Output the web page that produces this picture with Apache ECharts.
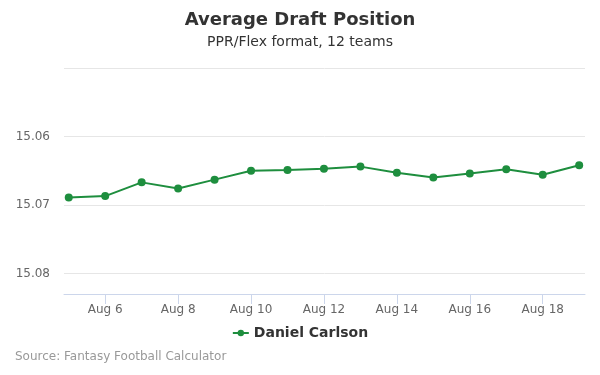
<!DOCTYPE html>
<html>
<head>
<meta charset="utf-8">
<script src="https://cdn.jsdelivr.net/npm/echarts@6/dist/echarts.min.js"></script>
<style>
  html, body { margin: 0; padding: 0; background: #fff; }
  #chart { width: 600px; height: 375px; }
</style>
</head>
<body>
<div id="chart"></div>
<script>
// days of August
var days = [5, 6, 7, 8, 9, 10, 11, 12, 13, 14, 15, 16, 17, 18, 19];
var adp = [15.0689, 15.0687, 15.0667, 15.0676, 15.0663, 15.0650, 15.0649, 15.0647,
           15.0644, 15.0653, 15.0660, 15.0654, 15.0648, 15.0656, 15.0642];
var dayTicks = [6, 8, 10, 12, 14, 16, 18];
var yTicks = ['15.06', '15.07', '15.08'];
var playerName = 'Daniel Carlson';

var points = [];
for (var i = 0; i < days.length; i++) {
    points.push([days[i], adp[i]]);
}

var chart = echarts.init(document.getElementById('chart'));
chart.setOption({
    textStyle: { fontFamily: 'DejaVu Sans' },
    title: [
        {
            text: 'Average Draft Position',
            left: 'center',
            top: 6,
            textStyle: { fontSize: 18, fontWeight: 'bold', color: '#333' }
        },
        {
            text: 'PPR/Flex format, 12 teams',
            left: 'center',
            top: 30,
            textStyle: { fontSize: 14, fontWeight: 'normal', color: '#333' }
        },
        {
            text: 'Source: Fantasy Football Calculator',
            left: 10,
            top: 346,
            textStyle: { fontSize: 12, fontWeight: 'normal', color: '#999' }
        }
    ],
    legend: {
        bottom: 30,
        left: 'center',
        itemWidth: 16,
        itemHeight: 8,
        textStyle: { fontSize: 14, fontWeight: 'bold', color: '#333' },
        data: [playerName]
    },
    grid: { left: 64, right: 15, top: 68, bottom: 81 },
    xAxis: {
        type: 'value',
        min: 4.87,
        max: 19.16,
        splitLine: { show: false },
        axisLine: { show: true, lineStyle: { color: '#ccd6eb' } },
        axisTick: { show: true, customValues: dayTicks, length: 10, lineStyle: { color: '#ccd6eb' } },
        axisLabel: {
            customValues: dayTicks,
            color: '#666',
            fontSize: 12,
            margin: 10,
            formatter: function (v) { return 'Aug ' + v; }
        }
    },
    yAxis: {
        type: 'value',
        inverse: true,
        min: 15.05,
        max: 15.083,
        interval: 0.01,
        axisLine: { show: false },
        axisTick: { show: false },
        splitLine: { lineStyle: { color: '#e6e6e6' } },
        axisLabel: {
            color: '#666',
            fontSize: 12,
            margin: 14,
            formatter: function (v) {
                var s = v.toFixed(2);
                return yTicks.indexOf(s) >= 0 && Math.abs(v - parseFloat(s)) < 1e-6 ? s : '';
            }
        }
    },
    series: [{
        name: playerName,
        type: 'line',
        data: points,
        symbol: 'circle',
        symbolSize: 8,
        lineStyle: { width: 2, color: '#1e8e3e' },
        itemStyle: { color: '#1e8e3e' }
    }]
});
</script>
</body>
</html>
